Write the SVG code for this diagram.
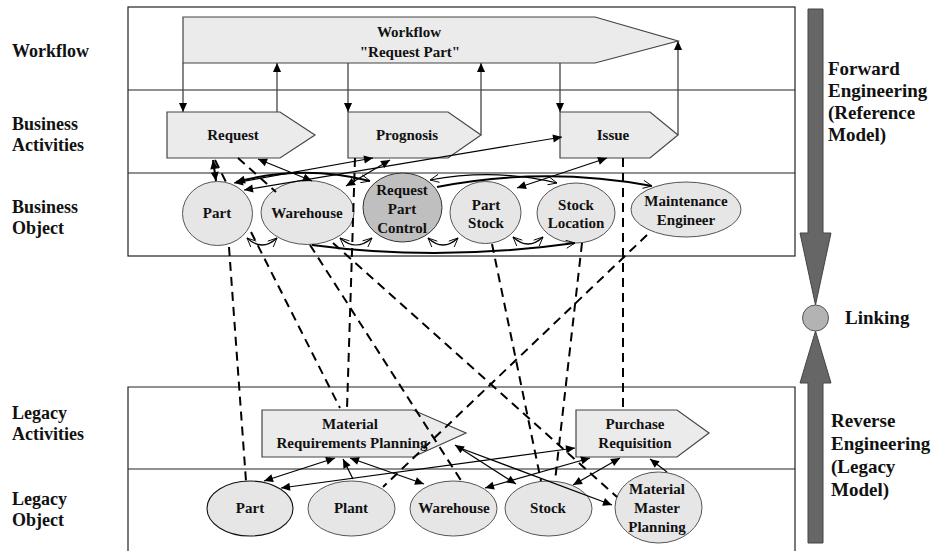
<svg xmlns="http://www.w3.org/2000/svg" width="937" height="551" viewBox="0 0 937 551">
<defs>
<style>
.lbl{font-size:18px}
.rl{font-size:19px}
.in{font-size:15px;text-anchor:middle}
.frame{fill:none;stroke:#222;stroke-width:1.2}
.act{fill:#ebebeb;stroke:#444;stroke-width:1.2}
.obj{fill:#e6e6e6;stroke:#555;stroke-width:1}
.wf{fill:none;stroke:#444;stroke-width:1.3;marker-end:url(#ah)}
.map{fill:none;stroke:#000;stroke-width:2;stroke-dasharray:9,6}
.ln{fill:none;stroke:#000;stroke-width:1.2}
.dbl{marker-start:url(#ah);marker-end:url(#ah)}
.one{marker-end:url(#ah)}
.thk{fill:none;stroke:#000;stroke-width:2}
.oo{marker-start:url(#oh);marker-end:url(#oh)}
.big{fill:#666;stroke:#444;stroke-width:1}
</style>
<marker id="ah" viewBox="0 0 10 10" refX="10" refY="5" markerWidth="10" markerHeight="9" markerUnits="userSpaceOnUse" orient="auto-start-reverse"><path d="M0,0.5 L10,5 L0,9.5 z" fill="#000"/></marker>
<marker id="oh" viewBox="0 0 10 10" refX="10" refY="5" markerWidth="10" markerHeight="9" markerUnits="userSpaceOnUse" orient="auto-start-reverse"><path d="M0,0.5 L10,5 L0,9.5" fill="none" stroke="#000" stroke-width="1"/></marker>
</defs>
<rect width="937" height="551" fill="#fff"/>

<g id="frames">
<rect class="frame" x="128" y="7" width="667" height="249"/>
<line class="frame" x1="128" y1="90" x2="795" y2="90"/>
<line class="frame" x1="128" y1="173" x2="795" y2="173"/>
<path class="frame" d="M128,551 V387 H795 V551"/>
<line class="frame" x1="128" y1="469" x2="795" y2="469"/>
</g>

<g id="layer-labels" font-family="Liberation Serif, serif" font-weight="bold" fill="#111">
<text class="lbl" x="12" y="57">Workflow</text>
<text class="lbl" x="12" y="130">Business</text>
<text class="lbl" x="12" y="151">Activities</text>
<text class="lbl" x="12" y="213">Business</text>
<text class="lbl" x="12" y="234">Object</text>
<text class="lbl" x="12" y="419">Legacy</text>
<text class="lbl" x="12" y="440">Activities</text>
<text class="lbl" x="12" y="505">Legacy</text>
<text class="lbl" x="12" y="526">Object</text>
</g>

<g id="side" font-family="Liberation Serif, serif" font-weight="bold" fill="#111">
<polygon class="big" points="808,9 823,9 823,233 831,233 815.5,305 800,233 808,233"/>
<polygon class="big" points="808,543 823,543 823,383 831,383 815.5,331 800,383 808,383"/>
<circle cx="815.5" cy="318" r="13" fill="#b3b3b3" stroke="#555" stroke-width="1"/>
<text class="rl" x="828" y="75">Forward</text>
<text class="rl" x="828" y="97">Engineering</text>
<text class="rl" x="828" y="119">(Reference</text>
<text class="rl" x="828" y="141">Model)</text>
<text class="rl" x="845" y="324">Linking</text>
<text class="rl" x="831" y="427">Reverse</text>
<text class="rl" x="831" y="450">Engineering</text>
<text class="rl" x="831" y="473">(Legacy</text>
<text class="rl" x="831" y="496">Model)</text>
</g>

<g id="nodes" font-family="Liberation Serif, serif" font-weight="bold" fill="#111">
<g id="workflow">
<polygon class="act" points="183,17 595,17 678,41 595,63 183,63"/>
<text class="in" x="409" y="37">Workflow</text>
<text class="in" x="410" y="57">"Request Part"</text>
</g>

<g id="request">
<polygon class="act" points="167,112 280,112 315,135 280,158 167,158"/>
<text class="in" x="233" y="140">Request</text>
</g>
<g id="prognosis">
<polygon class="act" points="348,112 448,112 481,135 448,158 348,158"/>
<text class="in" x="407" y="140">Prognosis</text>
</g>
<g id="issue">
<polygon class="act" points="560,112 650,112 678,135 650,158 560,158"/>
<text class="in" x="613" y="140">Issue</text>
</g>

<g id="b-part">
<ellipse class="obj" cx="217.5" cy="213.5" rx="35" ry="32"/>
<text class="in" x="217" y="218">Part</text>
</g>
<g id="b-warehouse">
<ellipse class="obj" cx="307.5" cy="212.5" rx="46.5" ry="32"/>
<text class="in" x="307" y="218">Warehouse</text>
</g>
<g id="b-rpc">
<ellipse cx="402.5" cy="207.5" rx="39.5" ry="34.5" fill="#bfbfbf" stroke="#333" stroke-width="1"/>
<text class="in" x="402" y="195">Request</text>
<text class="in" x="402" y="214">Part</text>
<text class="in" x="402" y="233">Control</text>
</g>
<g id="b-partstock">
<ellipse class="obj" cx="485.5" cy="212.5" rx="35.5" ry="31"/>
<text class="in" x="486" y="210">Part</text>
<text class="in" x="486" y="228">Stock</text>
</g>
<g id="b-stockloc">
<ellipse class="obj" cx="576" cy="213" rx="39" ry="30"/>
<text class="in" x="576" y="210">Stock</text>
<text class="in" x="576" y="228">Location</text>
</g>
<g id="b-maint">
<ellipse class="obj" cx="686" cy="209.5" rx="55" ry="27.5"/>
<text class="in" x="686" y="206">Maintenance</text>
<text class="in" x="686" y="225">Engineer</text>
</g>

<g id="mrp">
<polygon class="act" points="262,410 413,410 466,433 413,457 262,457"/>
<text class="in" x="350" y="429">Material</text>
<text class="in" x="352" y="448">Requirements Planning</text>
</g>
<g id="purchase">
<polygon class="act" points="576,410 677,410 709,433 677,457 576,457"/>
<text class="in" x="635" y="429">Purchase</text>
<text class="in" x="635" y="448">Requisition</text>
</g>

<g id="l-part">
<ellipse cx="250" cy="508.5" rx="43" ry="27.5" fill="#e6e6e6" stroke="#111" stroke-width="1.1"/>
<text class="in" x="250" y="513">Part</text>
</g>
<g id="l-plant">
<ellipse class="obj" cx="351.5" cy="508.5" rx="43.5" ry="27.5" stroke="#888"/>
<text class="in" x="351" y="513">Plant</text>
</g>
<g id="l-warehouse">
<ellipse class="obj" cx="453.5" cy="508.5" rx="43.5" ry="27.5" stroke="#888"/>
<text class="in" x="454" y="513">Warehouse</text>
</g>
<g id="l-stock">
<ellipse class="obj" cx="548.5" cy="508.5" rx="43.5" ry="27.5" stroke="#888"/>
<text class="in" x="548" y="513">Stock</text>
</g>
<g id="l-mmp">
<ellipse class="obj" cx="658.5" cy="507.5" rx="43.5" ry="35.5" stroke="#777"/>
<text class="in" x="657" y="494">Material</text>
<text class="in" x="657" y="513">Master</text>
<text class="in" x="657" y="532">Planning</text>
</g>
</g>

<g id="connectors">
<path class="wf" d="M183,63 V112"/>
<path class="wf" d="M277,112 V63"/>
<path class="wf" d="M348,63 V112"/>
<path class="wf" d="M481,135 V63"/>
<path class="wf" d="M560,63 V112"/>
<path class="wf" d="M678,135 V41"/>

<path class="map" d="M229,247 L246,481"/>
<path class="map" d="M215,160 L226,182"/>
<path class="map" d="M251,232 L340,408"/>
<path class="map" d="M238,158 L276,192"/>
<path class="map" d="M333,243 L617,497"/>
<path class="map" d="M310,245 L462,482"/>
<path class="map" d="M355,158 L347,409"/>
<path class="map" d="M492,244 L541,481"/>
<path class="map" d="M582,243 L555,481"/>
<path class="map" d="M623,158 L623,410"/>
<path class="map" d="M647,235 L383,487"/>

<path class="thk dbl" d="M213,160 L216,181"/>
<path class="ln dbl" d="M258,159 L312,181"/>
<path class="ln dbl" d="M373,158 L234,183"/>
<path class="ln dbl" d="M562,137 L244,190"/>
<path class="ln dbl" d="M390,160 L346,186"/>
<path class="ln dbl" d="M607,158 L517,188"/>

<path class="thk" d="M236,182 Q303,164 370,181" marker-start="url(#ah)" marker-end="url(#oh)"/>
<path class="thk" d="M437,187 Q545,166 652,186" marker-end="url(#oh)"/>
<path class="ln oo" d="M430,180 Q495,168 557,183"/>
<path class="ln oo" d="M247,238 Q262,252 277,238"/>
<path class="ln oo" d="M340,238 Q356,252 372,238"/>
<path class="ln oo" d="M428,238 Q443,252 458,238"/>
<path class="ln oo" d="M513,237 Q528,251 543,237"/>
<path class="thk" d="M312,245 Q440,262 575,243" marker-end="url(#oh)"/>

<path class="ln dbl" d="M335,458 L264,481"/>
<path class="ln one" d="M353,479 L343,459"/>
<path class="ln dbl" d="M350,458 L424,484"/>
<path class="ln dbl" d="M281,488 L575,448"/>
<path class="ln dbl" d="M455,445 L516,484"/>
<path class="ln one" d="M460,448 L612,505"/>
<path class="ln dbl" d="M485,488 L590,458"/>
<path class="ln dbl" d="M573,485 L620,458"/>
<path class="ln one" d="M667,472 L650,459"/>
</g>
</svg>
